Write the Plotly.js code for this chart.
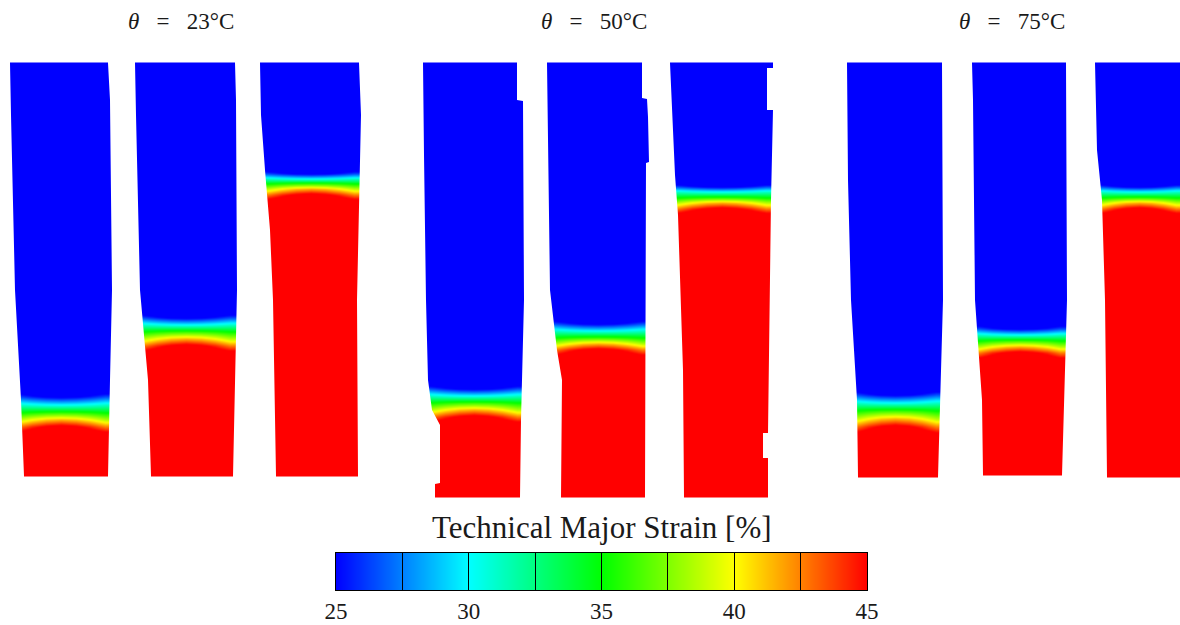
<!DOCTYPE html>
<html><head><meta charset="utf-8">
<script src="https://cdn.plot.ly/plotly-3.0.1.min.js"></script>
<style>html,body{margin:0;padding:0;background:#fff;}#chart{width:1180px;height:625px;}</style>
</head><body><div id="chart"></div>
<script>
// ================= DATA =================
const temperatures = ['23', '50', '75'];
const strainTicks = [25, 30, 35, 40, 45];
const strainDividers = [25, 27.5, 30, 32.5, 35, 37.5, 40, 42.5, 45];
const colorbarTitle = 'Technical Major Strain [%]';

// strain [%] across the neck front, per row: [edge, outer, inner, centre] (mirrored across the width)
// rows: upper clamp, upper clamp, 7 rows through the front, lower clamp, lower clamp
const frontStrain = [
  [20, 20, 20, 20],
  [20, 20, 20, 20],
  [22.5, 22, 21.7, 21.5],
  [26.5, 25.5, 24.8, 24.5],
  [31, 30.5, 30.15, 30],
  [35, 35.5, 35.85, 36],
  [38.5, 40, 41.05, 41.5],
  [42.5, 44.25, 45.4, 46],
  [46, 47, 47.7, 48],
  [48, 48, 48, 48],
  [48, 48, 48, 48]
];

// positions of the 7 front rows along each specimen (three specimens per temperature)
const frontRows23 = [
  [388, 396, 404, 412, 419, 426, 433],
  [310, 317, 324, 331, 338, 345, 352],
  [167, 173, 178, 183, 188, 194, 200]
];
const frontRows50 = [
  [381, 388, 395, 402, 409, 416, 423],
  [316, 323, 330, 337, 343, 349, 356],
  [181, 186, 191, 197, 202, 208, 214]
];
const frontRows75 = [
  [386, 394, 402, 410, 418, 426, 434],
  [321, 328, 334, 340, 346, 352, 359],
  [181, 186, 191, 197, 202, 208, 214]
];

// ================= GEOMETRY (figure units) =================
const titleX = [181, 594, 1012];
const specimens = [
  {top:63, bottom:476, left:[[63,10],[115,11],[290,15],[400,21],[476,24]], right:[[63,108],[100,110],[290,112],[380,110],[476,108]]},
  {top:63, bottom:476, left:[[63,135],[115,136],[290,140],[380,148],[476,151]], right:[[63,235],[100,236],[290,237],[476,233]]},
  {top:63, bottom:476, left:[[63,260],[115,261],[170,265],[230,270],[300,273],[476,276]], right:[[63,359],[115,361],[300,357],[476,358]]},
  {top:63, bottom:497, left:[[63,423],[155,424],[300,426],[380,428],[410,432],[425,440],[483,440],[484,435],[497,435]], right:[[63,517],[100,517],[101,523],[300,524],[420,521],[497,520]]},
  {top:63, bottom:497, left:[[63,547],[290,550],[350,557],[380,562],[497,561]], right:[[63,642],[98,642],[99,647],[117,648],[162,649],[163,646],[497,645]]},
  {top:63, bottom:497, left:[[63,670],[175,675],[215,678],[370,683],[497,684]], right:[[63,773],[68,773],[68,767],[110,767],[110,773],[200,771],[433,768],[433,763],[458,763],[458,768],[497,768]]},
  {top:63, bottom:477, left:[[63,847],[180,848],[300,851],[400,857],[477,858]], right:[[63,942],[300,943],[477,938]]},
  {top:63, bottom:475, left:[[63,972],[100,973],[300,975],[400,982],[475,983]], right:[[63,1066],[300,1067],[475,1062]]},
  {top:63, bottom:477, left:[[63,1095],[150,1097],[200,1102],[300,1105],[477,1107]], right:[[63,1182],[477,1182]]}
];
const colorbarBox = {x0: 336, x1: 867, y0: 553, y1: 590};
const frontRowsAll = frontRows23.concat(frontRows50, frontRows75);

const serif = '"Liberation Serif", "Times New Roman", serif';
const ink = '#1a1a1a';
const W = 1180, H = 625;

// ================= BUILD =================
const traces = [];
const shapes = [];
const NC = 7;
specimens.forEach((s, k) => {
  const x0 = Math.min(...s.left.map(p => p[1]));
  const x1 = Math.max(...s.right.map(p => p[1]));
  const w = (x1 - x0) / NC;
  const xs = [];
  for (let i = 0; i < NC; i++) xs.push(x0 + (i + 0.5) * w);
  const ys = [s.top, s.top + 1].concat(frontRowsAll[k], [s.bottom - 1, s.bottom]);
  const zs = frontStrain.map(r => [r[0], r[1], r[2], r[3], r[2], r[1], r[0]]);
  traces.push({
    type: 'heatmap', x: xs, y: ys, z: zs, coloraxis: 'coloraxis',
    zsmooth: 'best', hoverinfo: 'skip', xaxis: 'x', yaxis: 'y'
  });
  // white masks outside the specimen outline
  let p = `M ${x0 - 3},${s.top - 2} L ${s.left[0][1]},${s.top - 2}`;
  s.left.forEach(q => { p += ` L ${q[1]},${q[0]}`; });
  p += ` L ${s.left[s.left.length - 1][1]},${s.bottom + 2} L ${x0 - 3},${s.bottom + 2} Z`;
  shapes.push({type: 'path', path: p, xref: 'x', yref: 'y', fillcolor: '#fff', line: {width: 0}, layer: 'above'});
  let r = `M ${x1 + 3},${s.top - 2} L ${s.right[0][1]},${s.top - 2}`;
  s.right.forEach(q => { r += ` L ${q[1]},${q[0]}`; });
  r += ` L ${s.right[s.right.length - 1][1]},${s.bottom + 2} L ${x1 + 3},${s.bottom + 2} Z`;
  shapes.push({type: 'path', path: r, xref: 'x', yref: 'y', fillcolor: '#fff', line: {width: 0}, layer: 'above'});
});

// colour bar drawn as a strain ramp on its own axis
traces.push({
  type: 'heatmap', x: strainDividers, y: [0.5], z: [strainDividers], coloraxis: 'coloraxis',
  zsmooth: 'best', hoverinfo: 'skip', xaxis: 'x2', yaxis: 'y2'
});

const sp = '\u00a0\u00a0\u00a0';
const annotations = temperatures.map((t, i) => ({
  x: titleX[i], y: 21, xref: 'x', yref: 'y', showarrow: false,
  text: '<i>θ</i>' + sp + '=' + sp + t + '°C',
  font: {family: serif, size: 23, color: ink}, xanchor: 'center', yanchor: 'middle'
}));
annotations.push({
  x: 602, y: 527, xref: 'x', yref: 'y', showarrow: false, text: colorbarTitle,
  font: {family: serif, size: 31, color: ink}, xanchor: 'center', yanchor: 'middle'
});

const tickText = strainDividers.map(v => strainTicks.includes(v) ? String(v) : '');

const layout = {
  width: W, height: H, autosize: false,
  margin: {l: 0, r: 0, t: 0, b: 0, pad: 0},
  paper_bgcolor: '#fff', plot_bgcolor: 'rgba(0,0,0,0)',
  showlegend: false,
  xaxis: {range: [0, W], domain: [0, 1], visible: false, fixedrange: true},
  yaxis: {range: [H, 0], domain: [0, 1], visible: false, fixedrange: true},
  xaxis2: {
    domain: [colorbarBox.x0 / W, colorbarBox.x1 / W], range: [25, 45], anchor: 'y2',
    tickmode: 'array', tickvals: strainDividers, ticktext: tickText,
    ticks: 'inside', ticklen: colorbarBox.y1 - colorbarBox.y0, tickwidth: 1, tickcolor: '#000',
    showline: true, mirror: true, linecolor: '#000', linewidth: 1,
    showgrid: false, zeroline: false, fixedrange: true,
    tickfont: {family: serif, size: 23, color: ink}
  },
  yaxis2: {
    domain: [1 - colorbarBox.y1 / H, 1 - colorbarBox.y0 / H], range: [0, 1], anchor: 'x2',
    showline: true, mirror: true, linecolor: '#000', linewidth: 1,
    ticks: '', showticklabels: false, showgrid: false, zeroline: false, fixedrange: true
  },
  coloraxis: {
    cmin: 25, cmax: 45, showscale: false,
    colorscale: [[0, 'rgb(0,0,255)'], [0.25, 'rgb(0,255,255)'], [0.5, 'rgb(0,255,0)'], [0.75, 'rgb(255,255,0)'], [1, 'rgb(255,0,0)']]
  },
  shapes: shapes,
  annotations: annotations
};

Plotly.newPlot('chart', traces, layout, {displayModeBar: false, staticPlot: true});
</script>
</body></html>
